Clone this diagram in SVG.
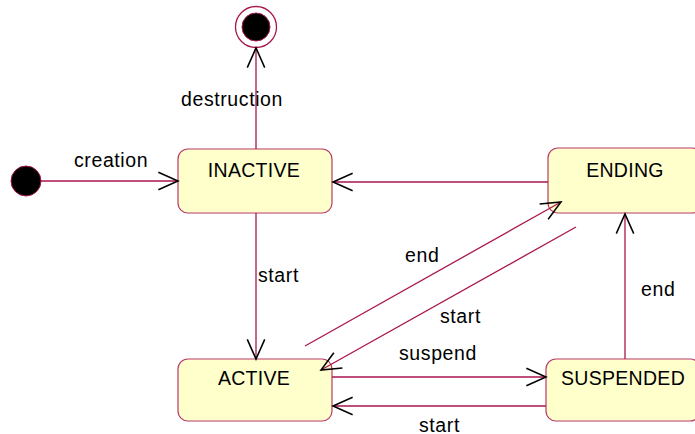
<svg xmlns="http://www.w3.org/2000/svg" width="695" height="434" viewBox="0 0 695 434">
<style>
.st{fill:#ffffcc;stroke:#b83a68;stroke-width:1.2}
.ln{stroke:#a8164f;stroke-width:1.3;fill:none}
.lbl{font-family:"Liberation Sans",Arial,sans-serif;font-size:19.5px;letter-spacing:0.6px;fill:#000}
.nm{font-family:"Liberation Sans",Arial,sans-serif;font-size:19.5px;letter-spacing:0.3px;fill:#000;text-anchor:middle}
</style>
<defs>
<marker id="arr" markerUnits="userSpaceOnUse" markerWidth="24" markerHeight="24" viewBox="-20 -10 22 20" refX="0" refY="0" orient="auto" overflow="visible">
<path d="M-18,-8 L0,0 L-18,8" fill="none" stroke="#000" stroke-width="1.4"/>
</marker>
</defs>
<g id="initial">
<circle cx="26" cy="181" r="15" fill="#000" stroke="#a8164f" stroke-width="1"/>
</g>
<g id="final">
<circle cx="256" cy="27" r="20.5" fill="#fff" stroke="#a8164f" stroke-width="1.3"/>
<circle cx="256" cy="27" r="14" fill="#000" stroke="#a8164f" stroke-width="1"/>
</g>
<g id="inactive">
<rect class="st" x="178" y="149" width="154" height="64" rx="10"/>
<text class="nm" x="254" y="176.5">INACTIVE</text>
</g>
<g id="ending">
<rect class="st" x="548" y="148" width="154" height="65" rx="10"/>
<text class="nm" x="625" y="176.5">ENDING</text>
</g>
<g id="active">
<rect class="st" x="178" y="359" width="154" height="62" rx="10"/>
<text class="nm" x="254" y="385">ACTIVE</text>
</g>
<g id="suspended">
<rect class="st" x="546" y="359" width="154" height="62" rx="10"/>
<text class="nm" x="623" y="385">SUSPENDED</text>
</g>
<g id="connectors">
<line class="ln" x1="41" y1="181" x2="178" y2="181" marker-end="url(#arr)"/>
<line class="ln" x1="256" y1="149" x2="256" y2="48" marker-end="url(#arr)"/>
<line class="ln" x1="548" y1="182" x2="333" y2="182" marker-end="url(#arr)"/>
<line class="ln" x1="256" y1="213" x2="256" y2="359" marker-end="url(#arr)"/>
<line class="ln" x1="305" y1="346" x2="561" y2="202" marker-end="url(#arr)"/>
<line class="ln" x1="576" y1="227" x2="321" y2="370" marker-end="url(#arr)"/>
<line class="ln" x1="332" y1="377" x2="546" y2="377" marker-end="url(#arr)"/>
<line class="ln" x1="546" y1="406" x2="333" y2="406" marker-end="url(#arr)"/>
<line class="ln" x1="625" y1="359" x2="625" y2="214" marker-end="url(#arr)" stroke="#c8739a"/>
<text class="lbl" x="74" y="167">creation</text>
<text class="lbl" x="181" y="105.5">destruction</text>
<text class="lbl" x="258" y="281.5">start</text>
<text class="lbl" x="405" y="261.5">end</text>
<text class="lbl" x="440" y="322.5">start</text>
<text class="lbl" x="399" y="360">suspend</text>
<text class="lbl" x="419" y="431.5">start</text>
<text class="lbl" x="641" y="296">end</text>
</g>
</svg>
